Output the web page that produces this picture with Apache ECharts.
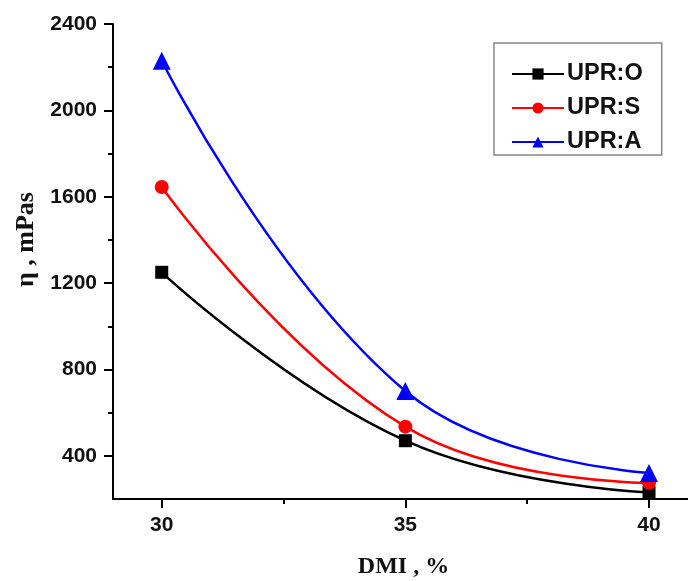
<!DOCTYPE html>
<html>
<head>
<meta charset="utf-8">
<script src="https://cdn.jsdelivr.net/npm/echarts@6/dist/echarts.min.js"></script>
<style>html,body{margin:0;padding:0;background:#fff}#c{width:688px;height:581px}</style>
</head>
<body>
<div id="c"></div>
<script>
var dmi = [30, 35, 40];
var uprO = [1250, 470, 230];
var uprS = [1645, 535, 275];
var uprA = [2230, 700, 320];
var xTicks = [30, 35, 40];
var xMinorTicks = [32.5, 37.5];
var yTicks = [400, 800, 1200, 1600, 2000, 2400];
var yMinorTicks = [600, 1000, 1400, 1800, 2200];
var seriesNames = ['UPR:O', 'UPR:S', 'UPR:A'];

function pairs(ys){ return dmi.map(function(x,i){ return [x, ys[i]]; }); }

var chart = echarts.init(document.getElementById('c'), null, {renderer:'canvas'});
var labelStyle = {color:'#111', fontFamily:'Liberation Sans, Arial, sans-serif', fontWeight:'bold', fontSize:21,
  formatter:function(v){ return String(v); }};
var xMin = 29, xMax = 40.8, yMin = 200, yMax = 2400;
chart.setOption({
  animation:false,
  backgroundColor:'#fff',
  grid:{left:113, right:0, top:24, bottom:82, containLabel:false, outerBoundsMode:'none'},
  legend:{
    orient:'vertical', left:494, top:43,
    padding:[19, 19, 1, 17],
    itemGap:10, itemWidth:52, itemHeight:14,
    borderColor:'#888', borderWidth:1.5, backgroundColor:'#fff',
    textStyle:{color:'#111', fontFamily:'Liberation Sans, Arial, sans-serif', fontWeight:'bold', fontSize:23.5, padding:[0,0,0,-2]},
    data:seriesNames
  },
  xAxis:[{
    type:'value', min:xMin, max:xMax,
    name:'DMI , %', nameLocation:'middle', nameGap:56,
    nameTextStyle:{color:'#111', fontFamily:'Liberation Serif, Times New Roman, serif', fontWeight:'bold', fontSize:24, padding:[0,0,0,6]},
    axisLine:{show:true, onZero:false, lineStyle:{color:'#000', width:2}},
    axisTick:{show:true, inside:false, length:9, lineStyle:{color:'#000', width:2}, customValues:xTicks},
    axisLabel:Object.assign({margin:16, customValues:xTicks}, labelStyle),
    splitLine:{show:false}
  },{
    type:'value', min:xMin, max:xMax, position:'bottom',
    axisLine:{show:false},
    axisTick:{show:true, length:5, lineStyle:{color:'#000', width:2}, customValues:xMinorTicks},
    axisLabel:{show:false}, splitLine:{show:false}
  }],
  yAxis:[{
    type:'value', min:yMin, max:yMax,
    name:'η , mPas', nameLocation:'middle', nameGap:74, nameRotate:90,
    nameTextStyle:{color:'#111', fontFamily:'Liberation Serif, Times New Roman, serif', fontWeight:'bold', fontSize:26, padding:[0,0,0,44]},
    axisLine:{show:true, onZero:false, lineStyle:{color:'#000', width:2}},
    axisTick:{show:true, inside:false, length:9, lineStyle:{color:'#000', width:2}, customValues:yTicks},
    axisLabel:Object.assign({margin:16, customValues:yTicks}, labelStyle),
    splitLine:{show:false}
  },{
    type:'value', min:yMin, max:yMax, position:'left',
    axisLine:{show:false},
    axisTick:{show:true, length:5, lineStyle:{color:'#000', width:2}, customValues:yMinorTicks},
    axisLabel:{show:false}, splitLine:{show:false}
  }],
  series:[
    {name:seriesNames[0], type:'line', data:pairs(uprO), smooth:0.45, symbol:'rect', symbolSize:13,
     itemStyle:{color:'#000'}, lineStyle:{color:'#000', width:2.5}},
    {name:seriesNames[1], type:'line', data:pairs(uprS), smooth:0.45, symbol:'circle', symbolSize:14,
     itemStyle:{color:'#ff0000'}, lineStyle:{color:'#ff0000', width:2.5}},
    {name:seriesNames[2], type:'line', data:pairs(uprA), smooth:0.45, symbol:'triangle', symbolSize:18,
     itemStyle:{color:'#0000ff'}, lineStyle:{color:'#0000ff', width:2.5}}
  ]
});
</script>
</body>
</html>
